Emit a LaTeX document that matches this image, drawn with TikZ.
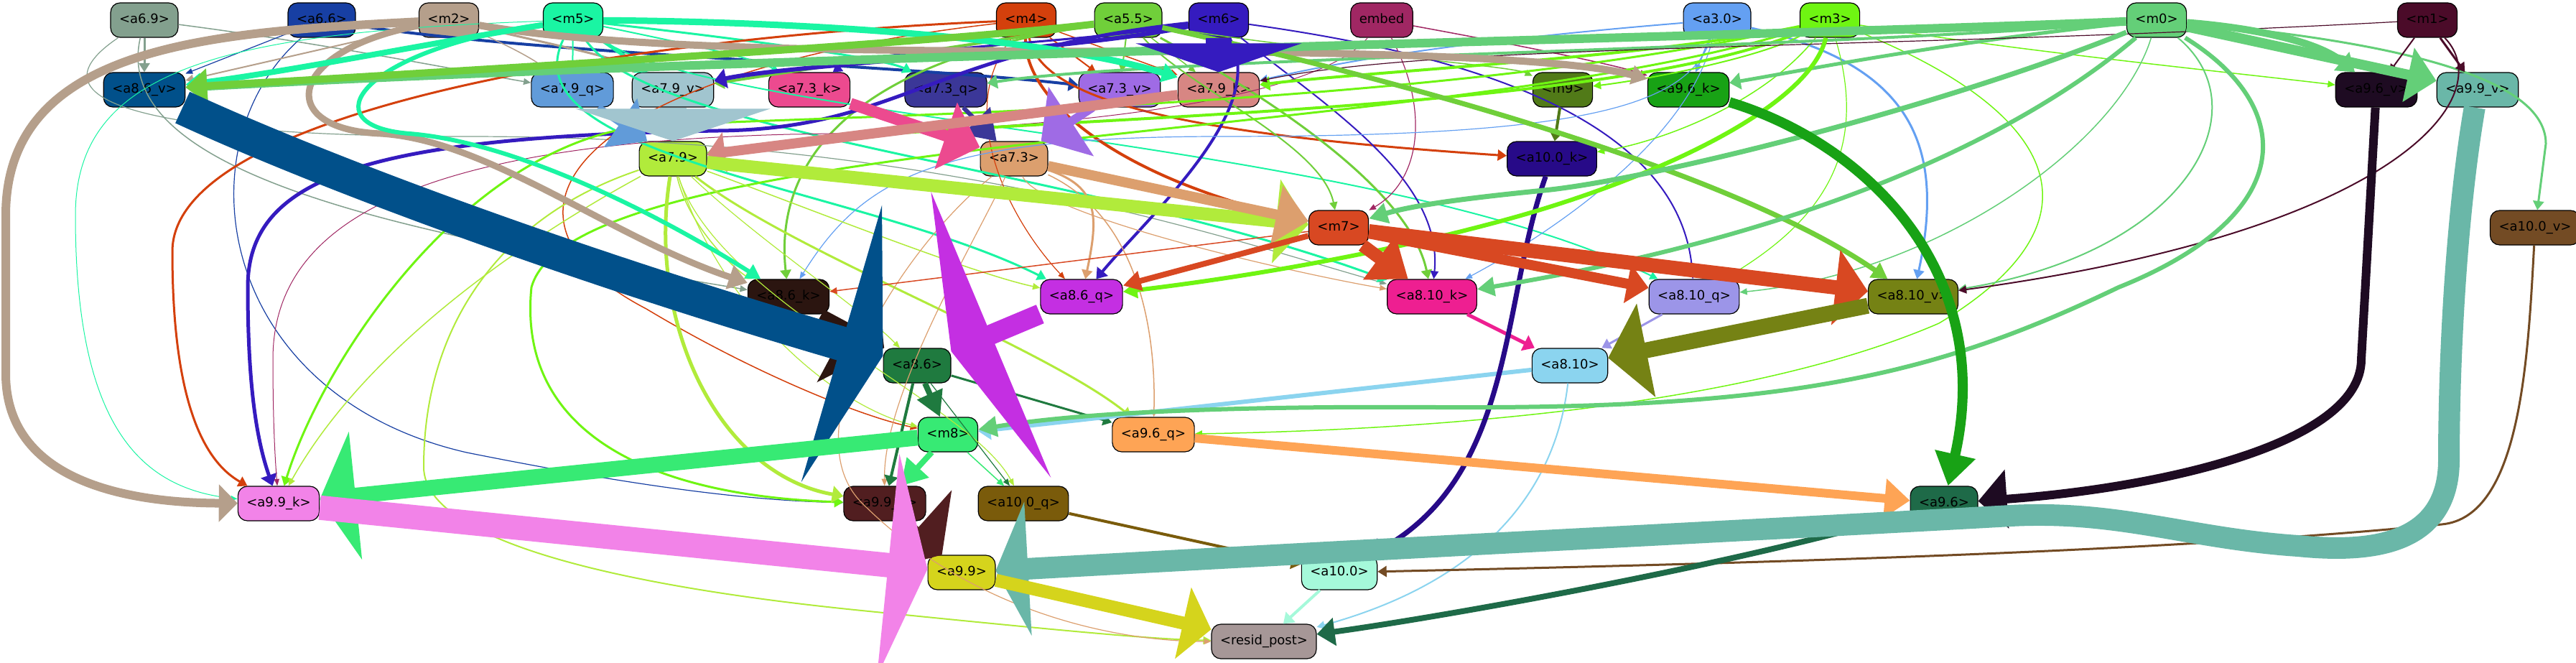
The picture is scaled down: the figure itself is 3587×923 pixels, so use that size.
\documentclass[tikz,border=0pt]{standalone}
\usepackage{fontspec}
\setmainfont{DejaVu Sans}
\usepackage{xcolor}
\usetikzlibrary{arrows.meta}

\definecolor{c69}{HTML}{83A08E}
\definecolor{c66}{HTML}{173FA3}
\definecolor{cm2}{HTML}{B59F8B}
\definecolor{cm5}{HTML}{1AF5A3}
\definecolor{cm4}{HTML}{D4400C}
\definecolor{c55}{HTML}{70CF3A}
\definecolor{cm6}{HTML}{351BBF}
\definecolor{cemb}{HTML}{A02763}
\definecolor{c30}{HTML}{64A0F2}
\definecolor{cm3}{HTML}{6FF512}
\definecolor{cm0}{HTML}{64CF78}
\definecolor{cm1}{HTML}{4B0B29}
\definecolor{c86v}{HTML}{01508A}
\definecolor{c79q}{HTML}{619BD9}
\definecolor{c79v}{HTML}{A1C5CF}
\definecolor{c73k}{HTML}{EC4A8F}
\definecolor{c73q}{HTML}{3B3798}
\definecolor{c73v}{HTML}{9F6BE5}
\definecolor{c79k}{HTML}{D78683}
\definecolor{cm9}{HTML}{517A18}
\definecolor{c96k}{HTML}{18A215}
\definecolor{c96v}{HTML}{1E0B22}
\definecolor{c99v}{HTML}{6AB7A8}
\definecolor{c79}{HTML}{B1EB3B}
\definecolor{c73}{HTML}{DC9F6E}
\definecolor{c100k}{HTML}{270A88}
\definecolor{cm7}{HTML}{D84822}
\definecolor{c100v}{HTML}{734B24}
\definecolor{c86k}{HTML}{2B1510}
\definecolor{c86q}{HTML}{C42FE2}
\definecolor{c810k}{HTML}{EE1F91}
\definecolor{c810q}{HTML}{9C95E8}
\definecolor{c810v}{HTML}{758214}
\definecolor{c86}{HTML}{1F7A3F}
\definecolor{c810}{HTML}{8BD4EF}
\definecolor{cm8}{HTML}{37EA74}
\definecolor{c96q}{HTML}{FEA455}
\definecolor{c99k}{HTML}{F283E8}
\definecolor{c99q}{HTML}{511E20}
\definecolor{c100q}{HTML}{7A5B0B}
\definecolor{c96}{HTML}{1E6A48}
\definecolor{c99}{HTML}{D5D41C}
\definecolor{c100}{HTML}{A5F9DA}
\definecolor{cres}{HTML}{A69797}

\begin{document}
\begin{tikzpicture}[
  x=1pt, y=-1pt,
  nd/.style={draw=black, line width=1.2pt, rounded corners=13pt, fill=#1,
    minimum height=48pt, inner xsep=12pt, inner ysep=0pt,
    text height=13pt, text depth=4pt, font=\fontsize{18}{20}\selectfont},
  lnk/.style 2 args={draw=#1, line width=#2pt, line join=round,
    -{Triangle[length=8pt 1.5, width=3pt 4]}},
  hd/.style 2 args={-{Triangle[length=#1pt, width=#2pt]}}
]
  \fill[white] (0,0) rectangle (3587,923);
  \useasboundingbox (0,0) rectangle (3587,923);

  % top row
  \node[nd=c69] (a69) at (201,28) {<a6.9>};
  \node[nd=c66] (a66) at (448,28) {<a6.6>};
  \node[nd=cm2] (m2) at (625,28) {<m2>};
  \node[nd=cm5] (m5) at (798,28) {<m5>};
  \node[nd=cm4] (m4) at (1429,28) {<m4>};
  \node[nd=c55] (a55) at (1571,28) {<a5.5>};
  \node[nd=cm6] (m6) at (1697,28) {<m6>};
  \node[nd=cemb] (emb) at (1924,28) {embed};
  \node[nd=c30] (a30) at (2391,28) {<a3.0>};
  \node[nd=cm3] (m3) at (2548,28) {<m3>};
  \node[nd=cm0] (m0) at (3003,28) {<m0>};
  \node[nd=cm1] (m1) at (3380,28) {<m1>};

  % second row
  \node[nd=c86v] (a86v) at (201,125) {<a8.6\_v>};
  \node[nd=c79q] (a79q) at (797,125) {<a7.9\_q>};
  \node[nd=c79v] (a79v) at (937,125) {<a7.9\_v>};
  \node[nd=c73k] (a73k) at (1127,125) {<a7.3\_k>};
  \node[nd=c73q] (a73q) at (1317,125) {<a7.3\_q>};
  \node[nd=c73v] (a73v) at (1559,125) {<a7.3\_v>};
  \node[nd=c79k] (a79k) at (1697,125) {<a7.9\_k>};
  \node[nd=cm9] (m9) at (2176,125) {<m9>};
  \node[nd=c96k] (a96k) at (2351,125) {<a9.6\_k>};
  \node[nd=c96v] (a96v) at (3309,125) {<a9.6\_v>};
  \node[nd=c99v] (a99v) at (3450,125) {<a9.9\_v>};

  % middle rows
  \node[nd=c79] (a79) at (937,221) {<a7.9>};
  \node[nd=c73] (a73) at (1412,221) {<a7.3>};
  \node[nd=c100k] (a100k) at (2161,221) {<a10.0\_k>};
  \node[nd=cm7] (m7) at (1864,317) {<m7>};
  \node[nd=c100v] (a100v) at (3530,317) {<a10.0\_v>};
  \node[nd=c86k] (a86k) at (1098,413) {<a8.6\_k>};
  \node[nd=c86q] (a86q) at (1506,413) {<a8.6\_q>};
  \node[nd=c810k] (a810k) at (1994,413) {<a8.10\_k>};
  \node[nd=c810q] (a810q) at (2359,413) {<a8.10\_q>};
  \node[nd=c810v] (a810v) at (2664,413) {<a8.10\_v>};
  \node[nd=c86] (a86) at (1277,509) {<a8.6>};
  \node[nd=c810] (a810) at (2186,509) {<a8.10>};
  \node[nd=cm8] (m8) at (1320,605) {<m8>};
  \node[nd=c96q] (a96q) at (1606,605) {<a9.6\_q>};

  % bottom rows
  \node[nd=c99k] (a99k) at (388,701) {<a9.9\_k>};
  \node[nd=c99q] (a99q) at (1232,701) {<a9.9\_q>};
  \node[nd=c100q] (a100q) at (1425,701) {<a10.0\_q>};
  \node[nd=c96] (a96) at (2707,701) {<a9.6>};
  \node[nd=c99] (a99) at (1339,797) {<a9.9>};
  \node[nd=c100] (a100) at (1865,797) {<a10.0>};
  \node[nd=cres] (res) at (1760,893) {<resid\_post>};

  % thin links from the top row
  \draw[lnk={c69}{3}] (a69) -- (a86v);
  \draw[lnk={c69}{1.5}] (a69) .. controls (450,60) and (650,100) .. (a79q);
  \draw[lnk={c69}{1.5}] (a69) .. controls (150,250) and (600,330) .. (a86k);
  \draw[lnk={c69}{1.2}] (a69) .. controls (20,150) and (250,190) .. (650,190) .. controls (1300,190) and (1700,330) .. (a810k);
  \draw[lnk={c66}{1.2}] (a66) -- (a86v);
  \draw[lnk={c66}{4}] (a66) .. controls (750,75) and (1250,90) .. (a73v);
  \draw[lnk={c66}{1.2}] (a66) .. controls (250,200) and (300,550) .. (650,630) .. controls (900,680) and (1050,697) .. (a99q);
  \draw[lnk={cm2}{2}] (m2) -- (a86v);
  \draw[lnk={cm2}{1.5}] (m2) .. controls (700,60) and (740,80) .. (a79q);
  \draw[lnk={cm2}{3}] (m2) .. controls (760,60) and (860,80) .. (a79v);
  \draw[lnk={cm5}{2}] (m5) -- (a79q);
  \draw[lnk={cm5}{5}] (m5) -- (a79v);
  \draw[lnk={cm5}{2}] (m5) .. controls (950,60) and (1050,80) .. (a73k);
  \draw[lnk={cm5}{3}] (m5) .. controls (1000,50) and (1230,80) .. (a73q);
  \draw[lnk={cm5}{3}] (m5) .. controls (700,220) and (1200,260) .. (a86q);
  \draw[lnk={cm5}{3}] (m5) .. controls (900,190) and (1500,230) .. (a810k);
  \draw[lnk={cm5}{2}] (m5) .. controls (1000,170) and (1900,190) .. (a810q);
  \draw[lnk={cm5}{1}] (m5) .. controls (300,45) and (105,100) .. (105,300) .. controls (105,600) and (200,680) .. (a99k);
  \draw[lnk={cm4}{2}] (m4) -- (a73v);
  \draw[lnk={cm4}{1.5}] (m4) -- (a79k);
  \draw[lnk={cm4}{4}] (m4) .. controls (1425,140) and (1560,250) .. (m7);
  \draw[lnk={cm4}{3}] (m4) .. controls (1450,150) and (1700,190) .. (a100k);
  \draw[lnk={cm4}{3}] (m4) .. controls (900,50) and (240,150) .. (240,350) .. controls (240,550) and (280,640) .. (a99k);
  \draw[lnk={cm4}{1.2}] (m4) .. controls (1330,150) and (1400,300) .. (a86q);
  \draw[lnk={cm4}{1.5}] (m4) .. controls (800,100) and (650,300) .. (900,430) .. controls (1050,520) and (1200,580) .. (m8);
  \draw[lnk={c55}{2}] (a55) -- (a73v);
  \draw[lnk={c55}{1.5}] (a55) -- (a79k);
  \draw[lnk={c55}{4}] (a55) .. controls (1300,70) and (1100,100) .. (a79v);
  \draw[lnk={c55}{3}] (a55) .. controls (1150,90) and (1080,250) .. (a86k);
  \draw[lnk={c55}{2}] (a55) .. controls (1650,120) and (1840,200) .. (m7);
  \draw[lnk={c55}{3}] (a55) .. controls (1720,110) and (1960,250) .. (a810k);
  \draw[lnk={c55}{1.5}] (a55) .. controls (1800,70) and (2100,90) .. (m9);
  \draw[lnk={cm6}{6}] (m6) .. controls (1500,70) and (1100,90) .. (a79v);
  \draw[lnk={cm6}{3}] (m6) .. controls (1500,60) and (1200,70) .. (a73k);
  \draw[lnk={cm6}{5}] (m6) .. controls (1300,70) and (1250,180) .. (1000,182) .. controls (500,190) and (345,250) .. (345,400) .. controls (345,550) and (360,620) .. (a99k);
  \draw[lnk={cm6}{4}] (m6) .. controls (1770,150) and (1600,300) .. (a86q);
  \draw[lnk={cm6}{2}] (m6) .. controls (1850,150) and (2010,250) .. (a810k);
  \draw[lnk={cm6}{2}] (m6) .. controls (2000,70) and (2340,150) .. (a810q);
  \draw[lnk={cemb}{1.5}] (emb) .. controls (2100,60) and (2250,90) .. (a96k);
  \draw[lnk={cemb}{1.2}] (emb) .. controls (1990,150) and (1980,250) .. (m7);
  \draw[lnk={cemb}{1}] (emb) .. controls (1850,120) and (1600,180) .. (1100,187) .. controls (600,200) and (380,300) .. (380,500) .. controls (380,600) and (384,650) .. (a99k);
  \draw[lnk={c30}{2}] (a30) -- (a96k);
  \draw[lnk={c30}{2}] (a30) .. controls (2000,60) and (1850,90) .. (a79k);
  \draw[lnk={c30}{3}] (a30) .. controls (2660,90) and (2710,200) .. (a810v);
  \draw[lnk={c30}{1.2}] (a30) .. controls (2350,150) and (2200,190) .. (1700,190) .. controls (1300,190) and (1200,250) .. (a86k);
  \draw[lnk={c30}{1.2}] (a30) .. controls (2350,200) and (2150,330) .. (a810k);
  \draw[lnk={cm3}{4}] (m3) .. controls (2300,80) and (1900,100) .. (a79k);
  \draw[lnk={cm3}{3}] (m3) .. controls (2000,150) and (1200,160) .. (900,175) .. controls (650,200) and (450,500) .. (a99k);
  \draw[lnk={cm3}{1.5}] (m3) .. controls (2850,150) and (2950,300) .. (2700,450) .. controls (2400,580) and (1900,600) .. (a96q);
  \draw[lnk={cm3}{1.2}] (m3) .. controls (2600,200) and (2550,300) .. (a810q);
  \draw[lnk={cm3}{3}] (m3) .. controls (2000,200) and (800,180) .. (740,400) .. controls (720,600) and (900,690) .. (a99q);
  \draw[lnk={cm3}{1.5}] (m3) .. controls (2800,70) and (3100,100) .. (a96v);
  \draw[lnk={cm3}{2}] (m3) .. controls (2450,80) and (2300,110) .. (m9);
  \draw[lnk={cm3}{1.5}] (m3) .. controls (2450,150) and (2300,200) .. (a100k);
  \draw[lnk={cm3}{4}] (m3) .. controls (2200,170) and (1300,160) .. (a79);
  \draw[lnk={cm0}{3}] (m0) .. controls (3300,55) and (3545,100) .. (3545,200) -- (a100v);
  \draw[lnk={cm0}{5}] (m0) .. controls (2700,60) and (2500,100) .. (a96k);
  \draw[lnk={cm0}{4}] (m0) .. controls (2500,70) and (1600,80) .. (a73q);
  \draw[lnk={cm0}{2}] (m0) .. controls (3150,150) and (3050,350) .. (a810v);
  \draw[lnk={cm0}{1.5}] (m0) .. controls (2950,200) and (2700,380) .. (a810q);
  \draw[lnk={cm1}{2}] (m1) -- (a96v);
  \draw[lnk={cm1}{3}] (m1) -- (a99v);
  \draw[lnk={cm1}{2}] (m1) .. controls (3480,130) and (3350,320) .. (a810v);
  \draw[lnk={cm1}{1.2}] (m1) .. controls (2600,70) and (2000,60) .. (a79k);

  % thin links from the middle
  \draw[lnk={c79}{1.5}] (a79) .. controls (960,320) and (1030,380) .. (a86k);
  \draw[lnk={c79}{1.5}] (a79) .. controls (1100,280) and (1350,380) .. (a86q);
  \draw[lnk={c79}{3}] (a79) .. controls (1100,350) and (1450,480) .. (a96q);
  \draw[lnk={c79}{5}] (a79) .. controls (900,450) and (1000,660) .. (a99q);
  \draw[lnk={c79}{1.5}] (a79) .. controls (700,350) and (500,500) .. (a99k);
  \draw[lnk={c79}{2}] (a79) .. controls (700,300) and (590,450) .. (590,650) .. controls (590,760) and (900,820) .. (1200,850) .. controls (1450,875) and (1600,890) .. (res);
  \draw[lnk={c79}{1.2}] (a79) .. controls (1000,420) and (1350,560) .. (a100q);
  \draw[lnk={c79}{1.2}] (a79) .. controls (1050,330) and (1200,430) .. (a86);
  \draw[lnk={c79}{1.2}] (a79) .. controls (1000,420) and (1150,560) .. (m8);
  \draw[lnk={c73}{3}] (a73) .. controls (1530,260) and (1530,300) .. (a86q);
  \draw[lnk={c73}{1.5}] (a73) .. controls (1580,300) and (1610,450) .. (a96q);
  \draw[lnk={c73}{1.2}] (a73) .. controls (1450,300) and (1800,380) .. (a810k);
  \draw[lnk={c73}{1.2}] (a73) .. controls (1350,350) and (1230,550) .. (a99q);
  \draw[lnk={c73}{1.2}] (a73) .. controls (1250,350) and (1100,600) .. (1200,700) .. controls (1350,850) and (1550,893) .. (res);
  \draw[lnk={cm9}{4}] (m9) -- (a100k);
  \draw[lnk={cm7}{1.5}] (m7) -- (a86k);
  \draw[lnk={c86}{4}] (a86) -- (a99q);
  \draw[lnk={c86}{3}] (a86) -- (a96q);
  \draw[lnk={c86}{1.2}] (a86) -- (a100q);
  \draw[lnk={c810}{6}] (a810) -- (m8);
  \draw[lnk={c810}{2}] (a810) .. controls (2170,650) and (2100,800) .. (res);
  \draw[lnk={c810k}{5}] (a810k) -- (a810);
  \draw[lnk={c810q}{3}] (a810q) -- (a810);
  \draw[lnk={cm8}{1.5}] (m8) -- (a100q);
  \draw[lnk={c100q}{4}] (a100q) -- (a100);
  \draw[lnk={c100}{4}] (a100) -- (res);
  \draw[lnk={c100v}{3}] (a100v) .. controls (3520,500) and (3510,720) .. (3400,730) .. controls (3000,770) and (2400,785) .. (a100);
  \draw[lnk={c100k}{7}] (a100k) .. controls (2090,420) and (2110,660) .. (a100);

  % thick links
  \draw[lnk={cm2}{12}] (m2) .. controls (300,45) and (8,60) .. (8,300) -- (8,520) .. controls (8,680) and (200,700) .. (a99k);
  \draw[lnk={cm2}{9}, hd={26}{34}] (m2) .. controls (400,70) and (380,180) .. (530,186) .. controls (680,195) and (850,330) .. (a86k);
  \draw[lnk={cm2}{10}, hd={22}{26}] (m2) .. controls (900,75) and (1300,70) .. (1700,72) .. controls (2000,75) and (2200,85) .. (a96k);
  \draw[lnk={cm5}{8}, hd={22}{26}] (m5) .. controls (600,60) and (400,100) .. (a86v);
  \draw[lnk={cm5}{9}, hd={22}{26}] (m5) .. controls (1100,30) and (1450,50) .. (a79k);
  \draw[lnk={cm5}{6}, hd={20}{22}] (m5) .. controls (500,70) and (430,175) .. (570,186) .. controls (720,198) and (920,300) .. (a86k);
  \draw[lnk={cm0}{12}, hd={30}{47}] (m0) .. controls (2500,50) and (1000,80) .. (a86v);
  \draw[lnk={c55}{10}, hd={30}{47}] (a55) .. controls (1300,60) and (700,95) .. (a86v);
  \draw[lnk={c55}{7}, hd={22}{24}] (a55) .. controls (1900,100) and (2400,230) .. (a810v);
  \draw[lnk={cm3}{6}, hd={20}{22}] (m3) .. controls (2520,150) and (2300,250) .. (2100,305) .. controls (1900,360) and (1700,390) .. (a86q);
  \draw[lnk={cm0}{7}, hd={26}{28}] (m0) .. controls (2700,150) and (2300,250) .. (2150,265) .. controls (2050,275) and (1970,285) .. (m7);
  \draw[lnk={cm0}{6}, hd={24}{26}] (m0) .. controls (2800,200) and (2500,330) .. (a810k);
  \draw[lnk={cm0}{6}, hd={26}{28}] (m0) .. controls (3200,150) and (3200,300) .. (2950,400) .. controls (2700,520) and (2500,570) .. (2000,567) .. controls (1700,565) and (1500,575) .. (m8);
  \draw[lnk={cm0}{10}, hd={24}{32}] (m0) .. controls (3150,40) and (3230,60) .. (a96v);
  \draw[lnk={cm0}{14}, hd={40}{75}] (m0) -- (a99v);
  \draw[lnk={cm6}{36}, hd={40}{230}] (m6) -- (a79k);
  \draw[lnk={c79q}{10}, hd={45}{80}] (a79q) -- (a79);
  \draw[lnk={c79v}{38}, hd={45}{270}] (a79v) -- (a79);
  \draw[lnk={c73q}{6}, hd={40}{53}] (a73q) -- (a73);
  \draw[lnk={c73k}{16}, hd={50}{95}] (a73k) -- (a73);
  \draw[lnk={c73v}{12}, hd={50}{113}] (a73v) -- (a73);
  \draw[lnk={c79k}{14}, hd={25}{55}] (a79k) -- (a79);
  \draw[lnk={c79}{18}, hd={45}{115}] (a79) -- (m7);
  \draw[lnk={c73}{14}, hd={45}{80}] (a73) -- (m7);
  \draw[lnk={cm7}{8}, hd={25}{27}] (m7) -- (a86q);
  \draw[lnk={cm7}{14}, hd={30}{53}] (m7) -- (a810q);
  \draw[lnk={cm7}{18}, hd={50}{73}] (m7) -- (a810k);
  \draw[lnk={cm7}{20}, hd={45}{103}] (m7) -- (a810v);
  \draw[lnk={c810v}{22}, hd={54}{130}] (a810v) -- (a810);
  \draw[lnk={c86k}{15}, hd={60}{170}] (a86k) -- (a86);
  \draw[lnk={c86v}{48}, hd={60}{400}] (a86v) .. controls (450,240) and (800,370) .. (a86);
  \draw[lnk={c86q}{28}, hd={60}{430}] (a86q) -- (a86);
  \draw[lnk={c86}{8}, hd={35}{37}] (a86) -- (m8);
  \draw[lnk={cm8}{8}, hd={35}{40}] (m8) -- (a99q);
  \draw[lnk={cm8}{22}, hd={50}{177}] (m8) -- (a99k);
  \draw[lnk={c96q}{12}, hd={35}{53}] (a96q) -- (a96);
  \draw[lnk={c96k}{14}, hd={45}{55}] (a96k) .. controls (2600,200) and (2780,380) .. (a96);
  \draw[lnk={c96v}{12}, hd={40}{80}] (a96v) -- (3288,500) .. controls (3288,620) and (3000,680) .. (a96);
  \draw[lnk={c96}{8}, hd={25}{38}] (a96) .. controls (2400,790) and (2000,860) .. (res);
  \draw[lnk={c99q}{14}, hd={50}{150}] (a99q) -- (a99);
  \draw[lnk={c99k}{34}, hd={55}{310}] (a99k) -- (a99);
  \draw[lnk={c99v}{30}, hd={45}{185}] (a99v) .. controls (3420,300) and (3410,500) .. (3410,640) .. controls (3410,760) and (3300,770) .. (3200,760) .. controls (3050,750) and (2950,710) .. (2800,718) .. controls (2500,735) and (2000,760) .. (a99);
  \draw[lnk={c99}{18}, hd={40}{100}] (a99) -- (res);
\end{tikzpicture}
\end{document}
